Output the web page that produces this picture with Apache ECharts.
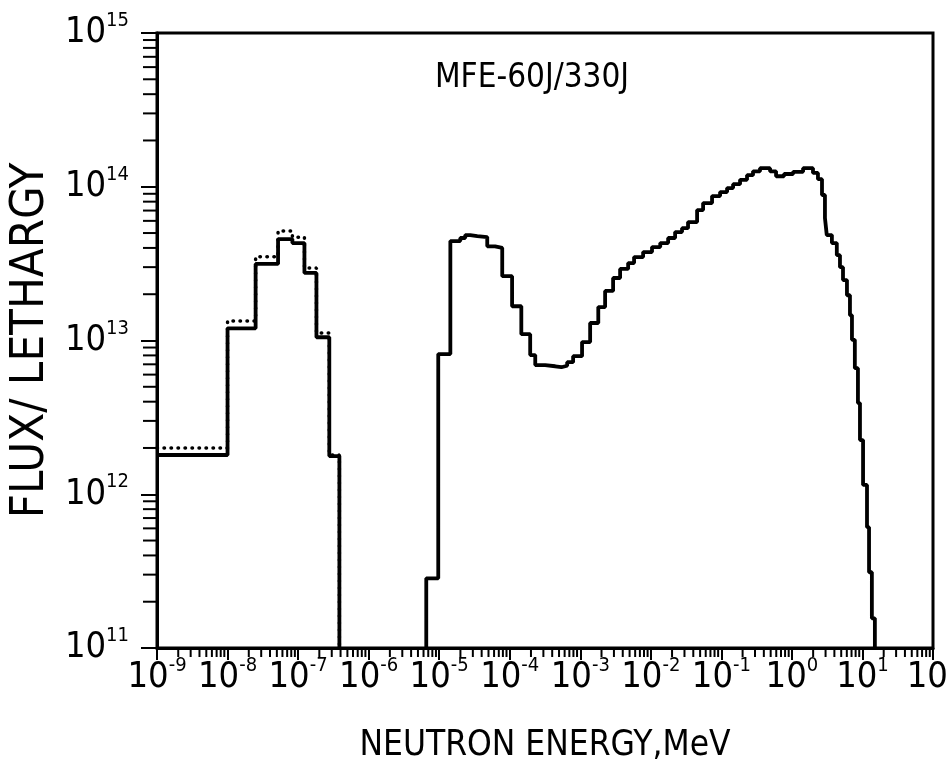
<!DOCTYPE html>
<html><head><meta charset="utf-8">
<script src="https://cdn.jsdelivr.net/npm/echarts@6/dist/echarts.min.js"></script>
<style>html,body{margin:0;padding:0;background:#fff}#c{width:949px;height:775px}</style>
</head><body><div id="c"></div><script>
// ---- data ----
const titleText = 'MFE-60J/330J';
const xAxisTitle = 'NEUTRON ENERGY,MeV';
const yAxisTitle = 'FLUX/ LETHARGY';
const xMin = 1e-9, xMax = 1e2, yMin = 1e11, yMax = 1e15;
const minorMultipliers = [2, 3, 4, 5, 6, 7, 8, 9];

// thermal group: bin edges (MeV) and flux per lethargy
const thermalEdges = [1e-9, 1e-8, 2.5e-8, 5.2e-8, 8.3e-8, 1.23e-7, 1.82e-7, 2.77e-7, 3.85e-7];
const thermalFlux = [1.8e12, 1.2e13, 3.15e13, 4.57e13, 4.3e13, 2.75e13, 1.05e13, 1.77e12];
const thermalFluxDotted = [2.0e12, 1.34e13, 3.5e13, 5.15e13, 4.7e13, 2.96e13, 1.12e13, 1.8e12];

// epithermal / fast group
const fastEdges = [6.56e-6, 9.7e-6, 1.44e-5, 1.99e-5, 2.34e-5, 2.75e-5, 3.47e-5, 4.8e-5, 6.2e-5, 7.83e-5,
  1.08e-4, 1.46e-4, 1.95e-4, 2.3e-4, 3.18e-4, 4.41e-4, 5.4e-4, 6.52e-4, 7.92e-4, 1.06e-3,
  1.38e-3, 1.8e-3, 2.25e-3, 2.92e-3, 3.67e-3, 4.77e-3, 5.79e-3, 7.78e-3, 1.04e-2, 1.36e-2,
  1.76e-2, 2.21e-2, 2.77e-2, 3.37e-2, 4.53e-2, 5.51e-2, 7.38e-2, 9.59e-2, 0.1205, 0.1466,
  0.184, 0.231, 0.281, 0.353, 0.49, 0.596, 0.773, 1.04, 1.44, 1.99,
  2.34, 2.67, 2.94, 3.12, 3.69, 4.33, 4.80, 5.30, 6.03, 6.65,
  7.10, 7.80, 8.63, 9.22, 10.2, 11.6, 12.4, 13.6, 15.0];
const fastFlux = [2.84e11, 8.16e12, 4.43e13, 4.64e13, 4.85e13, 4.78e13, 4.71e13, 4.1e13, 4.0e13,
  2.62e13, 1.67e13, 1.10e13, 8.04e12, 6.92e12, 6.8e12, 6.7e12, 6.85e12, 7.23e12, 7.91e12,
  9.77e12, 1.30e13, 1.65e13, 2.10e13, 2.55e13, 2.92e13, 3.19e13, 3.49e13, 3.76e13, 4.05e13,
  4.30e13, 4.64e13, 5.07e13, 5.38e13, 5.89e13, 7.05e13, 7.83e13, 8.70e13, 9.24e13, 9.81e13,
  1.04e14, 1.11e14, 1.19e14, 1.26e14, 1.32e14, 1.26e14, 1.17e14, 1.21e14, 1.25e14, 1.32e14,
  1.23e14, 1.12e14, 8.84e13, 6.26e13, 4.85e13, 4.30e13, 3.59e13, 3.00e13, 2.47e13, 1.97e13,
  1.46e13, 1.01e13, 6.61e12, 3.92e12, 2.25e12, 1.15e12, 6.11e11, 3.11e11, 1.56e11];

// ---- build step outlines from the bins ----
function stepPoints(edges, vals, startAtFloor) {
  const pts = [];
  if (startAtFloor) pts.push([edges[0], yMin]);
  for (let i = 0; i < vals.length; i++) {
    pts.push([edges[i], vals[i]]);
    pts.push([edges[i + 1], vals[i]]);
  }
  pts.push([edges[edges.length - 1], yMin]);
  return pts;
}

const decades = [];
for (let e = Math.log10(xMin); e < Math.log10(xMax); e++) decades.push(e);
const xMinor = [];
decades.forEach(e => minorMultipliers.forEach(m => xMinor.push([m * Math.pow(10, e), yMin])));
const yMinor = [];
for (let e = Math.log10(yMin); e < Math.log10(yMax); e++) minorMultipliers.forEach(m => yMinor.push([xMin, m * Math.pow(10, e)]));

const FONT = '"DejaVu Sans Condensed", "Liberation Sans", sans-serif';
const rich = {
  b: { fontFamily: FONT, fontSize: 36, lineHeight: 44, color: '#000' },
  s: { fontFamily: FONT, fontSize: 20, lineHeight: 10, verticalAlign: 'top', color: '#000' }
};
function powLabel(v) {
  const e = Math.round(Math.log10(v));
  return '{b|10}{s|' + e + '}';
}

const chart = echarts.init(document.getElementById('c'), null, { renderer: 'canvas' });
chart.setOption({
  animation: false,
  backgroundColor: '#fff',
  title: {
    text: titleText, left: 430, top: 57,
    textStyle: { fontFamily: FONT, fontSize: 33, fontWeight: 'normal', color: '#000' }
  },
  grid: { left: 157, right: 16, top: 33, bottom: 127, containLabel: false, outerBoundsMode: 'none',
          show: true, borderColor: '#000', borderWidth: 3, backgroundColor: 'transparent' },
  xAxis: {
    type: 'log', logBase: 10, min: xMin, max: xMax, interval: 1,
    name: xAxisTitle, nameLocation: 'middle', nameGap: 80,
    nameTextStyle: { fontFamily: FONT, fontSize: 35, color: '#000' },
    axisLine: { show: true, onZero: false, lineStyle: { color: '#000', width: 3 } },
    axisTick: { show: true, inside: false, length: 12, lineStyle: { color: '#000', width: 2 } },
    axisLabel: { margin: 8, formatter: powLabel, rich: rich, showMinLabel: true, showMaxLabel: true, hideOverlap: false },
    splitLine: { show: false }
  },
  yAxis: {
    type: 'log', logBase: 10, min: yMin, max: yMax, interval: 1,
    name: yAxisTitle, nameLocation: 'middle', nameGap: 101, nameRotate: 90,
    nameTextStyle: { fontFamily: FONT, fontSize: 47, color: '#000' },
    axisLine: { show: true, onZero: false, lineStyle: { color: '#000', width: 3 } },
    axisTick: { show: true, inside: false, length: 16, lineStyle: { color: '#000', width: 2 } },
    axisLabel: { margin: 28, formatter: powLabel, rich: rich, showMinLabel: true, showMaxLabel: true },
    splitLine: { show: false }
  },
  series: [
    {
      type: 'line', name: 'thermal-dotted', data: stepPoints(thermalEdges, thermalFluxDotted, false),
      showSymbol: false, z: 2,
      lineStyle: { color: '#000', width: 3.5, type: [0.5, 6.5], cap: 'round' }
    },
    {
      type: 'line', name: 'thermal', data: stepPoints(thermalEdges, thermalFlux, false),
      showSymbol: false, z: 3, lineStyle: { color: '#000', width: 3.8 }
    },
    {
      type: 'line', name: 'fast', data: stepPoints(fastEdges, fastFlux, true),
      showSymbol: false, z: 3, lineStyle: { color: '#000', width: 3.8 }
    },
    {
      type: 'custom', name: 'xminor', data: xMinor, clip: false, silent: true, z: 4,
      renderItem: function (params, api) {
        const p = api.coord([api.value(0), api.value(1)]);
        return { type: 'line', shape: { x1: p[0], y1: p[1], x2: p[0], y2: p[1] + 9 }, style: { stroke: '#000', lineWidth: 2 } };
      }
    },
    {
      type: 'custom', name: 'yminor', data: yMinor, clip: false, silent: true, z: 4,
      renderItem: function (params, api) {
        const p = api.coord([api.value(0), api.value(1)]);
        return { type: 'line', shape: { x1: p[0] - 14, y1: p[1], x2: p[0], y2: p[1] }, style: { stroke: '#000', lineWidth: 2 } };
      }
    }
  ]
});
</script></body></html>
